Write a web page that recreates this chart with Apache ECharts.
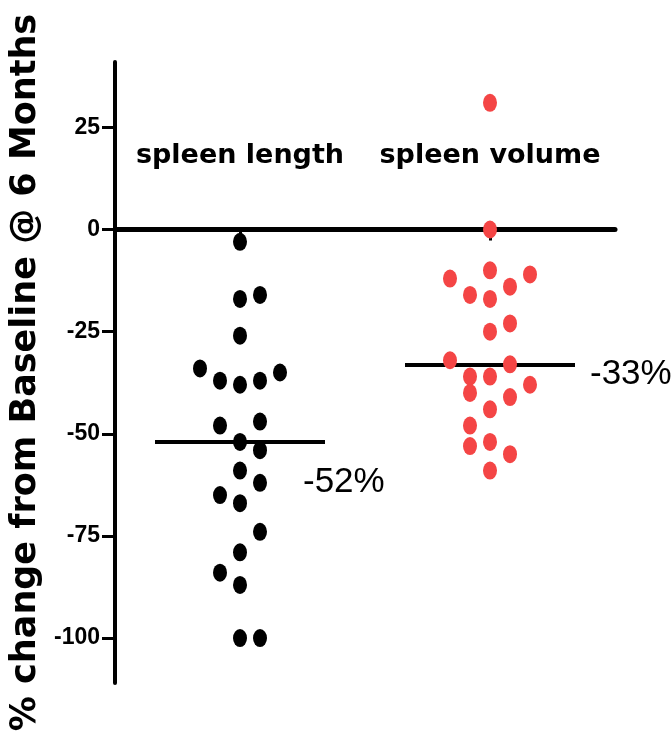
<!DOCTYPE html>
<html>
<head>
<meta charset="utf-8">
<script src="https://cdn.jsdelivr.net/npm/echarts@6/dist/echarts.min.js"></script>
<style>
html, body { margin: 0; padding: 0; background: #fff; }
#chart { width: 672px; height: 744px; }
</style>
</head>
<body>
<div id="chart"></div>
<script>
// groups on the x axis
const categories = ['spleen length', 'spleen volume'];

// % change per patient
const lengthValues = [-3, -17, -26, -38, -52, -59, -67, -79, -87, -100,
    -16, -37, -47, -54, -62, -74, -100,
    -37, -48, -65, -84,
    -35, -34];
// dot column inside the group (scatter-dot-plot spread)
const lengthCols = [0, 0, 0, 0, 0, 0, 0, 0, 0, 0,
    1, 1, 1, 1, 1, 1, 1,
    -1, -1, -1, -1,
    2, -2];

const volumeValues = [31, 0, -10, -17, -25, -36, -44, -52, -59,
    -14, -23, -33, -41, -55,
    -16, -36, -40, -48, -53,
    -11, -38,
    -12, -32];
const volumeCols = [0, 0, 0, 0, 0, 0, 0, 0, 0,
    1, 1, 1, 1, 1,
    -1, -1, -1, -1, -1,
    2, 2,
    -2, -2];

const yTicks = [-100, -75, -50, -25, 0, 25];

const colStep = 0.08;
const halfLine = 0.34;

function median(arr) {
    const s = arr.slice().sort((a, b) => a - b);
    const m = Math.floor(s.length / 2);
    return s.length % 2 ? s[m] : (s[m - 1] + s[m]) / 2;
}

function points(values, cols, pos) {
    return values.map((v, i) => [pos + cols[i] * colStep, v]);
}

function medianMark(values, pos, labelOffset) {
    const m = median(values);
    return {
        silent: true,
        symbol: 'none',
        z: 1,
        lineStyle: { color: '#000', width: 4, type: 'solid' },
        label: {
            show: true,
            position: 'end',
            distance: 0,
            offset: labelOffset,
            formatter: () => m + '%',
            color: '#000',
            fontFamily: 'Liberation Sans',
            fontSize: 35
        },
        data: [[
            { coord: [pos - halfLine, m] },
            { coord: [pos + halfLine, m] }
        ]]
    };
}

const chart = echarts.init(document.getElementById('chart'), null, { renderer: 'canvas' });

chart.setOption({
    animation: false,
    grid: {
        left: 115,
        right: 57,
        top: 62,
        bottom: 61,
        containLabel: false,
        outerBoundsMode: 'none'
    },
    xAxis: {
        type: 'value',
        min: 0.5,
        max: 2.5,
        splitLine: { show: false },
        axisLine: {
            onZero: true,
            lineStyle: { color: '#000', width: 5 }
        },
        axisTick: {
            customValues: [1, 2],
            length: 11,
            lineStyle: { color: '#000', width: 3 }
        },
        axisLabel: {
            customValues: [1, 2],
            inside: true,
            margin: 514, // labels sit at the grid bottom, lift them above the zero line
            formatter: v => categories[Math.round(v) - 1] || '',
            color: '#000',
            fontFamily: 'DejaVu Sans',
            fontWeight: 'bold',
            fontSize: 27
        }
    },
    yAxis: {
        type: 'value',
        min: -111,
        max: 41,
        name: '% change from Baseline @ 6 Months',
        nameLocation: 'middle',
        nameGap: 68,
        nameTextStyle: {
            color: '#000',
            fontFamily: 'DejaVu Sans',
            fontWeight: 'bold',
            fontSize: 35
        },
        splitLine: { show: false },
        axisLine: {
            onZero: false,
            lineStyle: { color: '#000', width: 4 }
        },
        axisTick: {
            customValues: yTicks,
            length: 13,
            lineStyle: { color: '#000', width: 3 }
        },
        axisLabel: {
            customValues: yTicks,
            margin: 15,
            color: '#000',
            fontFamily: 'Liberation Sans',
            fontWeight: 'bold',
            fontSize: 23
        }
    },
    series: [
        {
            name: categories[0],
            type: 'scatter',
            symbol: 'circle',
            symbolSize: [14, 18],
            itemStyle: { color: '#000', opacity: 1 },
            data: points(lengthValues, lengthCols, 1),
            z: 3,
            markLine: medianMark(lengthValues, 1, [-22, 40])
        },
        {
            name: categories[1],
            type: 'scatter',
            symbol: 'circle',
            symbolSize: [14, 18],
            itemStyle: { color: '#f44545', opacity: 1 },
            data: points(volumeValues, volumeCols, 2),
            z: 3,
            markLine: medianMark(volumeValues, 2, [15, 10])
        }
    ]
});
</script>
</body>
</html>
